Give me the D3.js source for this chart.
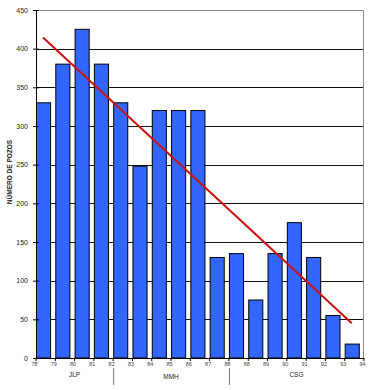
<!DOCTYPE html>
<html>
<head>
<meta charset="utf-8">
<script src="https://d3js.org/d3.v7.min.js"></script>
<style>
  body { margin: 0; background: #fff; }
  svg text { font-family: "Liberation Sans", Arial, sans-serif; }
</style>
</head>
<body>
<div id="chart"></div>
<script>
// data
var years = ["78", "79", "80", "81", "82", "83", "84", "85", "86", "87", "88", "88", "89", "90", "91", "92", "93", "94"];
var pozos = [330, 380, 425, 380, 330, 248, 320, 320, 320, 130, 135, 75, 135, 175, 130, 55, 18];
var periods = ["JLP", "MMH", "CSG"];
var periodStart = [0, 4, 10];   // index of bar where each period starts
var periodEnd = [4, 10, 17];
var yTicks = [0, 50, 100, 150, 200, 250, 300, 350, 400, 450];

var W = 370, H = 390;
var margin = { top: 10, left: 36, right: 6, bottom: 32 };
var w = W - margin.left - margin.right;
var h = H - margin.top - margin.bottom;

var svg = d3.select("#chart").append("svg")
    .attr("width", W).attr("height", H);
var g = svg.append("g").attr("transform", `translate(${margin.left},${margin.top})`);

var idx = d3.range(pozos.length);
var scaleX = d3.scaleBand().domain(idx).range([0, w]).padding(0);
var scaleY = d3.scaleLinear().domain([0, 450]).range([h, 0]);
var barW = scaleX.bandwidth() * 0.73;

// grid
g.selectAll("line.grid")
    .data(yTicks.filter(d => d > 0 && d < 450))
    .enter().append("line")
    .attr("class", "grid")
    .attr("x1", 0).attr("x2", w)
    .attr("y1", d => Math.round(scaleY(d)) + 0.5)
    .attr("y2", d => Math.round(scaleY(d)) + 0.5)
    .attr("stroke", "#111").attr("stroke-width", 1);

// frame top/right
g.append("path")
    .attr("d", `M0,0.5H${w - 0.5}V${h}`)
    .attr("fill", "none").attr("stroke", "#888");

// bars
g.selectAll("rect.bar")
    .data(pozos)
    .enter().append("rect")
    .attr("class", "bar")
    .attr("x", (d, i) => scaleX(i) + 0.5)
    .attr("y", d => scaleY(d))
    .attr("width", barW)
    .attr("height", d => h - scaleY(d))
    .attr("fill", "#3366ff")
    .attr("stroke", "#000").attr("stroke-width", 1);

// linear trend
var n = pozos.length;
var mx = d3.mean(idx), my = d3.mean(pozos);
var sxy = d3.sum(idx, i => (i - mx) * (pozos[i] - my));
var sxx = d3.sum(idx, i => (i - mx) * (i - mx));
var slope = sxy / sxx, icpt = my - slope * mx;
var cx = i => scaleX(i) + barW / 2;
g.append("line")
    .attr("x1", cx(0)).attr("y1", scaleY(icpt))
    .attr("x2", cx(n - 1)).attr("y2", scaleY(icpt + slope * (n - 1)))
    .attr("stroke", "#cc1111").attr("stroke-width", 2);

// y axis
var yAxis = d3.axisLeft(scaleY).tickValues(yTicks).tickSize(3).tickSizeOuter(0);
var ya = g.append("g").attr("class", "_y").call(yAxis);
ya.select(".domain").attr("stroke", "#000");
ya.selectAll(".tick line").attr("x2", 3).attr("x1", -3).attr("stroke", "#000");
ya.selectAll("text").attr("font-size", 7).attr("fill", "#222").attr("x", -8)
    .style("font-family", "Liberation Sans, Arial, sans-serif");

// x axis
g.append("line").attr("x1", 0).attr("x2", w).attr("y1", h + 0.5).attr("y2", h + 0.5).attr("stroke", "#000");
g.selectAll("line.xt")
    .data(years)
    .enter().append("line")
    .attr("class", "xt")
    .attr("x1", (d, i) => i * scaleX.step()).attr("x2", (d, i) => i * scaleX.step())
    .attr("y1", h).attr("y2", h + 3).attr("stroke", "#000");
g.selectAll("text.xl")
    .data(years)
    .enter().append("text")
    .attr("class", "xl")
    .attr("x", (d, i) => i * scaleX.step() - 1.5)
    .attr("y", h + 8)
    .attr("text-anchor", "middle")
    .attr("font-size", 5.5).attr("fill", "#444")
    .text(d => d);

// period labels and separators
g.selectAll("text.per")
    .data(periods)
    .enter().append("text")
    .attr("class", "per")
    .attr("x", (d, i) => (periodStart[i] + periodEnd[i]) / 2 * scaleX.step())
    .attr("y", (d, i) => h + (i == 1 ? 21 : 19))
    .attr("text-anchor", "middle")
    .attr("font-size", 6.5).attr("fill", "#222")
    .text(d => d);
g.selectAll("line.sep")
    .data(periodEnd.slice(0, 2))
    .enter().append("line")
    .attr("class", "sep")
    .attr("x1", d => d * scaleX.step() + 0.5).attr("x2", d => d * scaleX.step() + 0.5)
    .attr("y1", h + 10).attr("y2", h + 27)
    .attr("stroke", "#777");

// y title
svg.append("text")
    .attr("transform", "translate(12,172) rotate(-90)")
    .attr("text-anchor", "middle")
    .attr("font-size", 6.5).attr("font-weight", "bold").attr("fill", "#222")
    .text("NÚMERO DE POZOS");
</script>
</body>
</html>
